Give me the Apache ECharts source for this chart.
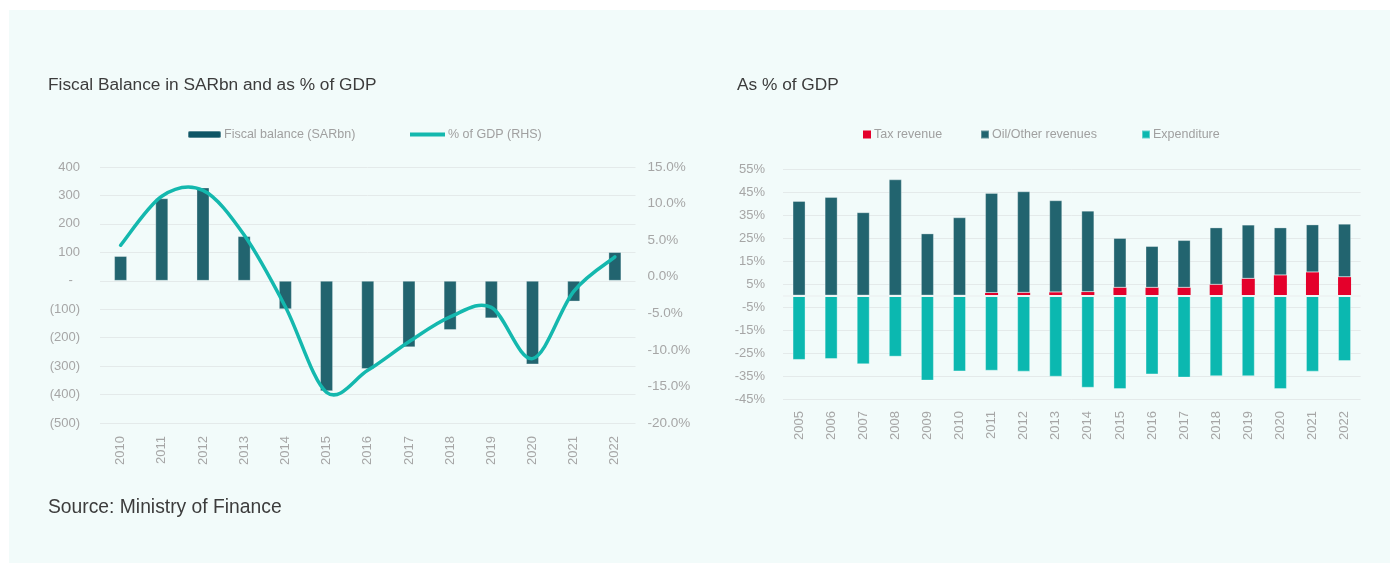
<!DOCTYPE html>
<html>
<head>
<meta charset="utf-8">
<script src="https://cdn.jsdelivr.net/npm/echarts@6/dist/echarts.min.js"></script>
<style>
  html, body { margin: 0; padding: 0; background: #ffffff; }
  #panel { position: absolute; left: 9px; top: 10px; width: 1381px; height: 553px; background: #f2fbfa; }
  #chart { position: absolute; left: 0; top: 0; width: 1390px; height: 563px; }
</style>
</head>
<body>
<div id="panel"></div>
<div id="chart"></div>
<script>
// ---- Left chart data ----
const years1 = ['2010','2011','2012','2013','2014','2015','2016','2017','2018','2019','2020','2021','2022'];
const fiscalBalance = [87, 290, 328, 157, -100, -388, -310, -234, -173, -132, -294, -73, 101];
const gdpPct = [4.3, 11.0, 11.8, 5.7, -4.1, -15.8, -12.8, -8.9, -5.5, -4.2, -11.2, -2.0, 2.7];

// ---- Right chart data ----
const years2 = ['2005','2006','2007','2008','2009','2010','2011','2012','2013','2014','2015','2016','2017','2018','2019','2020','2021','2022'];
const taxRevenue = [0, 0, 0, 0, 0, 0, 1.1, 1.2, 1.4, 1.5, 3.4, 3.4, 3.4, 4.7, 7.3, 8.8, 10.1, 8.0];
const oilOtherRevenue = [41.1, 42.8, 36.2, 50.5, 27.0, 34.0, 43.5, 44.1, 40.0, 35.4, 21.6, 18.1, 20.7, 24.9, 23.5, 20.8, 20.8, 23.2];
const expenditure = [-28.0, -27.6, -29.9, -26.6, -37.0, -33.0, -32.7, -33.1, -35.3, -40.1, -40.7, -34.3, -35.7, -35.1, -35.1, -40.7, -33.1, -28.5];

const FONT = "'Liberation Sans', Arial, sans-serif";
const LABEL = '#a6a6a6';
const GRIDLINE = '#e4eaea';
const DARK = '#22646f';
const TEAL = '#0bb8b0';
const RED = '#e4002b';
const LINE = '#14b8ae';

const chart = echarts.init(document.getElementById('chart'), null, { renderer: 'canvas' });

const legendBase = {
  selectedMode: false,
  textStyle: { fontFamily: FONT, fontSize: 12.5, color: '#a0a0a0', padding: [0, 0, 0, -2] },
  itemGap: 0
};

// Smoothed line (Catmull-Rom style Bezier, as the spreadsheet draws it) through the data points,
// positioned with the axes' own coordinate mapping.
function renderSmoothLine(params, api) {
  if (params.dataIndex !== 0) return null;
  const pts = gdpPct.map((v, i) => api.coord([i, v]));
  const k = 1 / 6;
  let d = 'M' + pts[0][0] + ',' + pts[0][1];
  for (let i = 0; i < pts.length - 1; i++) {
    const p0 = pts[i - 1] || pts[i];
    const p1 = pts[i];
    const p2 = pts[i + 1];
    const p3 = pts[i + 2] || pts[i + 1];
    const c1x = p1[0] + (p2[0] - p0[0]) * k;
    const c1y = p1[1] + (p2[1] - p0[1]) * k;
    const c2x = p2[0] - (p3[0] - p1[0]) * k;
    const c2y = p2[1] - (p3[1] - p1[1]) * k;
    d += ' C' + c1x + ',' + c1y + ' ' + c2x + ',' + c2y + ' ' + p2[0] + ',' + p2[1];
  }
  return {
    type: 'path',
    shape: { pathData: d },
    style: { stroke: LINE, lineWidth: 3.5, fill: null, lineCap: 'round', lineJoin: 'round' }
  };
}

const titleStyle = { fontFamily: FONT, fontWeight: 'normal', color: '#3c3c3c' };

chart.setOption({
  animation: false,
  backgroundColor: 'transparent',
  textStyle: { fontFamily: FONT },
  title: [
    { text: 'Fiscal Balance in SARbn and as % of GDP', left: 43, top: 72,
      textStyle: Object.assign({ fontSize: 17.3 }, titleStyle) },
    { text: 'As % of GDP', left: 732, top: 72,
      textStyle: Object.assign({ fontSize: 17.3 }, titleStyle) },
    { text: 'Source: Ministry of Finance', left: 43, top: 493,
      textStyle: Object.assign({ fontSize: 19.3 }, titleStyle) }
  ],
  legend: [
    Object.assign({}, legendBase, { left: 182, top: 123, itemWidth: 33, itemHeight: 7,
      data: [{ name: 'Fiscal balance (SARbn)', itemStyle: { color: '#0e5565' } }] }),
    Object.assign({}, legendBase, { left: 405, top: 123, itemWidth: 35, itemHeight: 4,
      data: [{ name: '% of GDP (RHS)', icon: 'path://M0,0 L35,0 L35,4 L0,4 Z', itemStyle: { color: LINE } }] }),
    Object.assign({}, legendBase, { left: 858, top: 123, itemWidth: 8, itemHeight: 8,
      data: [{ name: 'Tax revenue', icon: 'rect' }] }),
    Object.assign({}, legendBase, { left: 975, top: 123, itemWidth: 8, itemHeight: 8,
      data: [{ name: 'Oil/Other revenues', icon: 'rect' }] }),
    Object.assign({}, legendBase, { left: 1136, top: 123, itemWidth: 8, itemHeight: 8,
      data: [{ name: 'Expenditure', icon: 'rect' }] })
  ],
  grid: [
    { left: 100, top: 167, width: 535.5, height: 256 },
    { left: 783, top: 169, width: 577.6, height: 230 }
  ],
  xAxis: [
    { type: 'category', gridIndex: 0, data: years1, boundaryGap: true,
      axisLine: { show: false, onZero: false }, axisTick: { show: false },
      axisLabel: { rotate: 90, margin: 13, color: LABEL, fontFamily: FONT, fontSize: 13 } },
    { type: 'category', gridIndex: 1, data: years2, boundaryGap: true,
      axisLine: { show: false, onZero: false }, axisTick: { show: false },
      axisLabel: { rotate: 90, margin: 12, color: LABEL, fontFamily: FONT, fontSize: 13 } }
  ],
  yAxis: [
    { type: 'value', gridIndex: 0, min: -500, max: 400, interval: 100,
      axisLine: { show: false }, axisTick: { show: false },
      splitLine: { show: true, lineStyle: { color: GRIDLINE, width: 1 } },
      axisLabel: { margin: 20, color: LABEL, fontFamily: FONT, fontSize: 13,
        formatter: v => v > 0 ? String(v) : (v === 0 ? '-  ' : '(' + (-v) + ')') } },
    { type: 'value', gridIndex: 0, min: -20, max: 15, interval: 5, position: 'right',
      axisLine: { show: false }, axisTick: { show: false }, splitLine: { show: false },
      axisLabel: { margin: 12, color: LABEL, fontFamily: FONT, fontSize: 13.5,
        formatter: v => v.toFixed(1) + '%' } },
    { type: 'value', gridIndex: 1, min: -45, max: 55, interval: 10,
      axisLine: { show: false }, axisTick: { show: false },
      splitLine: { show: true, lineStyle: { color: GRIDLINE, width: 1 } },
      axisLabel: { margin: 18, color: LABEL, fontFamily: FONT, fontSize: 13,
        formatter: v => v + '%' } }
  ],
  series: [
    { name: 'Fiscal balance (SARbn)', type: 'bar', xAxisIndex: 0, yAxisIndex: 0,
      data: fiscalBalance, barWidth: 13,
      itemStyle: { color: DARK, borderColor: 'rgba(255,255,255,0.3)', borderWidth: 1 } },
    { name: '% of GDP (RHS)', type: 'custom', xAxisIndex: 0, yAxisIndex: 1,
      data: gdpPct.map((v, i) => [i, v]), encode: { x: 0, y: 1 },
      itemStyle: { color: LINE }, renderItem: renderSmoothLine, z: 3 },
    { name: 'Tax revenue', type: 'bar', xAxisIndex: 1, yAxisIndex: 2, stack: 'all',
      data: taxRevenue, barWidth: 13,
      itemStyle: { color: RED, borderWidth: 0 } },
    { name: 'Oil/Other revenues', type: 'bar', xAxisIndex: 1, yAxisIndex: 2, stack: 'all',
      data: oilOtherRevenue, barWidth: 13,
      itemStyle: { color: DARK, borderColor: 'rgba(255,255,255,0.3)', borderWidth: 1 } },
    { name: 'Expenditure', type: 'bar', xAxisIndex: 1, yAxisIndex: 2, stack: 'all',
      data: expenditure, barWidth: 13,
      itemStyle: { color: TEAL, borderColor: 'rgba(255,255,255,0.35)', borderWidth: 1 },
      markLine: { silent: true, symbol: 'none', label: { show: false },
        lineStyle: { color: '#eef4f4', width: 2, type: 'solid' },
        data: [{ yAxis: 0 }] } }
  ]
});
</script>
</body>
</html>
